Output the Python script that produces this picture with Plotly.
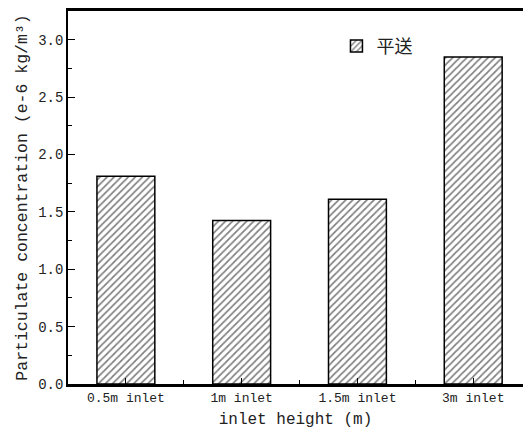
import plotly.graph_objects as go

categories = ["0.5m inlet", "1m inlet", "1.5m inlet", "3m inlet"]
values = [1.81, 1.425, 1.61, 2.85]
series_name = "平送"
y_ticks = [0.0, 0.5, 1.0, 1.5, 2.0, 2.5, 3.0]

FONT = "Liberation Mono, Noto Sans CJK SC, monospace"
positions = list(range(len(categories)))

fig = go.Figure()
fig.add_trace(go.Bar(
    x=positions, y=values, name=series_name, width=0.5,
    marker=dict(color="white",
                line=dict(color="black", width=1.5),
                pattern=dict(shape="/", fgcolor="black", bgcolor="white",
                             size=5, solidity=0.34, fillmode="overlay")),
    showlegend=True,
))

fig.update_layout(
    width=523, height=437,
    margin=dict(l=68, r=0, t=11, b=53),
    paper_bgcolor="white", plot_bgcolor="white",
    font=dict(family=FONT, color="#222", size=13),
    showlegend=True,
    legend=dict(x=0.59, y=0.955, xanchor="left", yanchor="top",
                bgcolor="rgba(0,0,0,0)", font=dict(size=18, family="Noto Sans CJK SC")),
    bargap=0.5,
)
fig.update_xaxes(
    range=[-0.5, 3.43], tickmode="array", tickvals=positions, ticktext=categories,
    showline=True, linecolor="black", linewidth=2.5, mirror=True,
    ticks="inside", ticklen=6, tickcolor="black", tickwidth=1,
    showgrid=False, zeroline=False,
    tickfont=dict(size=13),
    minor=dict(tickvals=[0.5, 1.5, 2.5], ticks="inside", ticklen=4, tickcolor="black"),
    title=dict(text="inlet height (m)", font=dict(size=16), standoff=8),
)
fig.update_yaxes(
    range=[0, 3.25], tickmode="array", tickvals=y_ticks, tickformat=".1f",
    showline=True, linecolor="black", linewidth=1.5,
    ticks="inside", ticklen=7, tickcolor="black", tickwidth=1,
    minor=dict(dtick=0.25, ticks="inside", ticklen=4, tickcolor="black"),
    showgrid=False, zeroline=False,
    tickfont=dict(size=14),
    title=dict(text="Particulate concentration (e-6 kg/m³)", font=dict(size=16.5), standoff=6),
)

fig.write_html("out.html")
